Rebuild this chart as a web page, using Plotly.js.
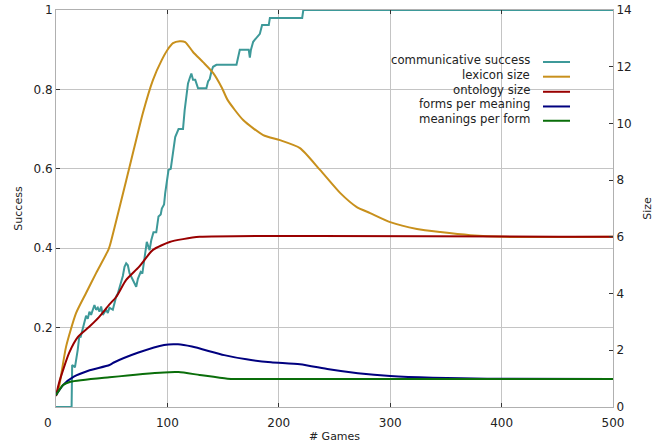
<!DOCTYPE html>
<html>
<head>
<meta charset="utf-8">
<script src="https://cdn.plot.ly/plotly-3.0.1.min.js"></script>
<style>html,body{margin:0;padding:0;background:#fff;}#chart{width:664px;height:444px;}</style>
</head>
<body>
<div id="chart"></div>
<script>
// Communicative success (left axis)
const successGames = [0,14,14.5,17,19.5,21,22,24,25.5,27,28.5,30,31.5,33,34.5,36,37.5,39,40.5,42,45,46.5,48,51,52.5,54,55.5,57,60,61.5,63,64.5,66,69,72,73.5,76,77.5,79,80.5,81.5,84,85.5,87.5,90,92,94,95,97,98,99.5,101,103,104,105.5,107,110,114,115.5,118.5,120,121.5,123,125,127.5,135,136.5,138,139.5,141,144,162,165,173,174,175,177,183,185,191,192,221,222,500];
const successValues = [0,0,0.106,0.10,0.144,0.18,0.175,0.2,0.215,0.23,0.222,0.24,0.232,0.244,0.257,0.245,0.25,0.24,0.253,0.232,0.245,0.237,0.25,0.245,0.262,0.278,0.286,0.30,0.33,0.353,0.362,0.357,0.337,0.32,0.303,0.323,0.34,0.336,0.37,0.395,0.416,0.395,0.42,0.44,0.44,0.48,0.485,0.50,0.51,0.538,0.563,0.597,0.60,0.622,0.656,0.68,0.70,0.70,0.748,0.815,0.828,0.84,0.824,0.824,0.803,0.803,0.82,0.826,0.845,0.857,0.862,0.862,0.90,0.90,0.88,0.90,0.92,0.94,0.962,0.962,0.98,0.98,1.0,1.0];

// Size series (right axis)
const lexiconGames = [0,2.7,9,18,27,36,47,48.5,66,78,87,95,100,105,111,116,123,132,141,149,154,168,186,201,219,237,255,270,282,300,324,345,372,403,500];
const lexiconValues = [0.39,0.71,2.12,3.31,4.02,4.72,5.54,5.71,8.46,10.37,11.53,12.24,12.59,12.83,12.9,12.87,12.52,12.16,11.78,11.25,10.83,10.12,9.59,9.41,9.13,8.36,7.55,7.05,6.84,6.52,6.28,6.17,6.06,6.0,6.0];

const ontologyGames = [0,2.7,11.7,19.7,29.6,38.6,47.6,54,63,74.5,87,102,114,129,500];
const ontologyValues = [0.39,0.85,1.9,2.47,2.82,3.17,3.6,3.88,4.48,4.94,5.54,5.82,5.92,6.0,6.0];

const formsGames = [0,6.5,16,29,48,51.5,74,97,109.5,122,151,171,193,219,245,271,300,338,387,500];
const formsValues = [0.42,0.78,1.07,1.28,1.48,1.56,1.92,2.19,2.21,2.13,1.83,1.68,1.58,1.51,1.33,1.19,1.09,1.03,1.0,0.99];

const meaningsGames = [0,6.5,13,48,97,110,129,154,200,500];
const meaningsValues = [0.42,0.78,0.89,1.05,1.22,1.23,1.13,1.0,0.99,0.99];

const seriesNames = ["communicative success","lexicon size","ontology size","forms per meaning","meanings per form"];
const seriesColors = ["#3d9999","#c8901c","#990000","#00007f","#0a6e0a"];

const xTicks = [0,100,200,300,400,500];
const xTickText = ["","100","200","300","400","500"];
const y1Ticks = [0.2,0.4,0.6,0.8,1];
const y1TickText = ["0.2","0.4","0.6","0.8","1"];
const y2Ticks = [0,2,4,6,8,10,12,14];

const FONT = "DejaVu Sans, sans-serif";

const traces = [
  {x: successGames, y: successValues, yaxis: "y", line: {shape: "linear"}},
  {x: lexiconGames, y: lexiconValues, yaxis: "y2", line: {shape: "spline", smoothing: 0.6}},
  {x: ontologyGames, y: ontologyValues, yaxis: "y2", line: {shape: "spline", smoothing: 0.6}},
  {x: formsGames, y: formsValues, yaxis: "y2", line: {shape: "spline", smoothing: 0.6}},
  {x: meaningsGames, y: meaningsValues, yaxis: "y2", line: {shape: "spline", smoothing: 0.6}}
].map((t, i) => ({
  type: "scatter", mode: "lines", name: seriesNames[i], x: t.x, y: t.y, yaxis: t.yaxis,
  line: Object.assign({color: seriesColors[i], width: 2}, t.line),
  showlegend: false, hoverinfo: "skip"
}));

// custom legend (text at left of line sample)
const legendY = [0.874, 0.837, 0.799, 0.762, 0.726];
const annotations = seriesNames.map((n, i) => ({
  xref: "paper", yref: "paper", x: 0.8546, y: legendY[i], xanchor: "right", yanchor: "middle",
  text: n, showarrow: false, font: {family: FONT, size: 11.7, color: "#222"}
}));
// the "0" label of the x axis sits left of the corner in the reference
annotations.push({
  xref: "paper", yref: "paper", x: -0.0144, y: -0.041, xanchor: "center", yanchor: "middle",
  text: String(xTicks[0]), showarrow: false, font: {family: FONT, size: 12, color: "#222"}
});
const shapes = seriesNames.map((n, i) => ({
  type: "line", xref: "paper", yref: "paper", x0: 0.8743, x1: 0.9228,
  y0: legendY[i] - 0.005, y1: legendY[i] - 0.005,
  line: {color: seriesColors[i], width: 2}
}));

const layout = {
  width: 664, height: 444,
  margin: {l: 56, r: 51, t: 10, b: 37},
  paper_bgcolor: "#fff", plot_bgcolor: "#fff",
  font: {family: FONT, size: 12, color: "#222"},
  xaxis: {
    range: [0, 500], tickvals: xTicks, ticktext: xTickText, ticks: "inside", ticklen: 4, tickcolor: "#333",
    ticklabelstandoff: 5,
    showgrid: true, gridcolor: "#c4c4c4", gridwidth: 1, zeroline: false,
    showline: true, linecolor: "#b0b0b0", linewidth: 1, mirror: "ticks",
    title: {text: "# Games", font: {family: FONT, size: 11, color: "#222"}, standoff: 2},
    tickfont: {family: FONT, size: 12, color: "#222"}
  },
  yaxis: {
    range: [0, 1], tickvals: y1Ticks, ticktext: y1TickText, ticks: "inside", ticklen: 4, tickcolor: "#333",
    showgrid: true, gridcolor: "#c4c4c4", gridwidth: 1, zeroline: false,
    showline: true, linecolor: "#b0b0b0", linewidth: 1,
    title: {text: "Success", font: {family: FONT, size: 11, color: "#222"}, standoff: 8},
    tickfont: {family: FONT, size: 12, color: "#222"}
  },
  yaxis2: {
    range: [0, 14], tickvals: y2Ticks, overlaying: "y", side: "right",
    ticks: "inside", ticklen: 4, tickcolor: "#333",
    showgrid: false, zeroline: false, showline: true, linecolor: "#b0b0b0", linewidth: 1,
    title: {text: "Size", font: {family: FONT, size: 11, color: "#222"}, standoff: 12},
    tickfont: {family: FONT, size: 12, color: "#222"}
  },
  annotations: annotations,
  shapes: shapes
};

Plotly.newPlot("chart", traces, layout, {staticPlot: true, displayModeBar: false});
</script>
</body>
</html>
